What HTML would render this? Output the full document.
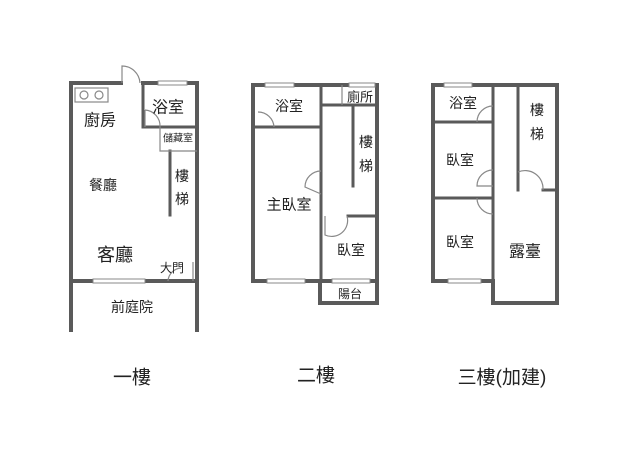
<!DOCTYPE html>
<html><head><style>body{margin:0;background:#fff}svg{display:block}text{font-family:"Liberation Sans","Noto Sans CJK TC",sans-serif;fill:#222;text-anchor:middle;dominant-baseline:central}</style></head>
<body>
<svg width="638" height="460" viewBox="0 0 638 460">
<g stroke="#5a5a5a" stroke-width="4" fill="none" stroke-linecap="square">
<!-- plan 1 -->
<path d="M71 83V330M71 83H121M143 83H197V330M71 281H197"/>
<path d="M143 83V127H197" stroke-width="3"/>
<path d="M170 151V215" stroke-width="3"/>
</g>
<g stroke="#888" stroke-width="1.2" fill="none">
<path d="M160 127V151H197"/>
<path d="M122 83V66A18 18 0 0 1 140 83"/>
<path d="M145 110A16 16 0 0 1 160 127M145 110V127"/>
<rect x="75" y="88" width="33" height="14"/>
<circle cx="84" cy="95" r="4"/><circle cx="99" cy="95" r="4"/>
<path d="M193 262V281M168 281A14 14 0 0 1 181 268"/>
</g>
<g fill="#fff" stroke="#888" stroke-width="1">
<rect x="158" y="81" width="29" height="4"/>
<rect x="93" y="279" width="52" height="4"/>
</g>
<!-- plan 2 -->
<g stroke="#5a5a5a" stroke-width="4" fill="none" stroke-linecap="square">
<path d="M253 85H377V281H253ZM320 281V303H377V281"/>
<path d="M253 127H321M321 85V281M322 105H377M353 105V186M348 216H377" stroke-width="3"/>
</g>
<g stroke="#888" stroke-width="1.2" fill="none">
<path d="M342 85V105M258 112A16 16 0 0 1 274 127M321 171A16 16 0 0 0 305 187L321 194M325 216V235A16 16 0 0 0 347 216"/>
</g>
<g fill="#fff" stroke="#888" stroke-width="1">
<rect x="265" y="83" width="29" height="4"/><rect x="349" y="83" width="26" height="4"/>
<rect x="267" y="279" width="38" height="4"/><rect x="332" y="279" width="38" height="4"/>
</g>
<!-- plan 3 -->
<g stroke="#5a5a5a" stroke-width="4" fill="none" stroke-linecap="square">
<path d="M433 85H557V303H493V281H433Z"/>
<path d="M493 85V281M433 122H493M433 198H493M518 85V190M543 190H557" stroke-width="3"/>
</g>
<g stroke="#888" stroke-width="1.2" fill="none">
<path d="M477 122A16 16 0 0 1 493 106M493 170A16 16 0 0 0 477 186H493M477 198A16 16 0 0 0 493 214M518 172A18 18 0 0 1 543 190"/>
</g>
<g fill="#fff" stroke="#888" stroke-width="1">
<rect x="444" y="83" width="28" height="4"/><rect x="448" y="279" width="33" height="4"/>
</g>
<g font-size="14">
<text x="100" y="121" font-size="16">廚房</text>
<text x="168" y="108" font-size="16">浴室</text>
<text x="178" y="139" font-size="10">儲藏室</text>
<text x="103" y="185">餐廳</text>
<text x="182" y="176">樓</text><text x="182" y="199">梯</text>
<text x="115" y="255" font-size="18">客廳</text>
<text x="172" y="268" font-size="12">大門</text>
<text x="132" y="307">前庭院</text>
<text x="289" y="106">浴室</text>
<text x="360" y="97" font-size="13">廁所</text>
<text x="366" y="142">樓</text><text x="366" y="166">梯</text>
<text x="289" y="205" font-size="15">主臥室</text>
<text x="351" y="250">臥室</text>
<text x="350" y="294" font-size="12">陽台</text>
<text x="463" y="103">浴室</text>
<text x="460" y="160">臥室</text>
<text x="460" y="242">臥室</text>
<text x="537" y="110">樓</text><text x="537" y="134">梯</text>
<text x="525" y="252" font-size="16">露臺</text>
<text x="132" y="378" font-size="19">一樓</text>
<text x="316" y="376" font-size="19">二樓</text>
<text x="502" y="378" font-size="19">三樓(加建)</text>
</g>
</svg>
</body></html>
